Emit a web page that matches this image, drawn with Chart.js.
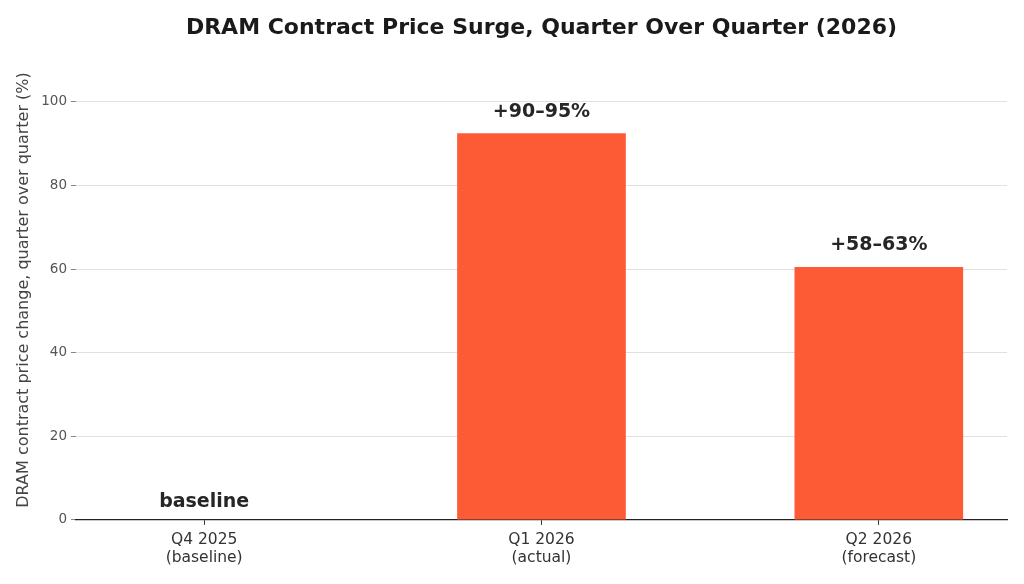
<!DOCTYPE html>
<html>
<head>
<meta charset="utf-8">
<script src="https://cdn.jsdelivr.net/npm/chart.js@4.4.1/dist/chart.umd.min.js"></script>
<style>
  html, body { margin: 0; padding: 0; background: #fff; }
  #wrap { width: 1024px; height: 584px; }
</style>
</head>
<body>
<div id="wrap"><canvas id="dramChart"></canvas></div>
<script>
// Chart data
const categories = [['Q4 2025', '(baseline)'], ['Q1 2026', '(actual)'], ['Q2 2026', '(forecast)']];
const priceChange = [0, 92.5, 60.5];
const barLabels = ['baseline', '+90–95%', '+58–63%'];
const yTicks = [0, 20, 40, 60, 80, 100];

const chartTitle = 'DRAM Contract Price Surge, Quarter Over Quarter (2026)';
const barColor = '#fd5b35';

// draws the text above each bar
const barLabelPlugin = {
    id: 'barLabels',
    afterDatasetsDraw(chart) {
        const ctx = chart.ctx;
        const meta = chart.getDatasetMeta(0);
        ctx.save();
        ctx.font = 'bold 19px "DejaVu Sans"';
        ctx.fillStyle = '#262626';
        ctx.textAlign = 'center';
        ctx.textBaseline = 'bottom';
        meta.data.forEach((bar, i) => {
            const offset = priceChange[i] > 0 ? 12 : 8;
            ctx.fillText(barLabels[i], bar.x, bar.y - offset);
        });
        ctx.restore();
    }
};

// title centred over the plot area rather than the whole canvas
const plotTitlePlugin = {
    id: 'plotTitle',
    afterDraw(chart) {
        const ctx = chart.ctx;
        const area = chart.chartArea;
        ctx.save();
        ctx.font = 'bold 22px "DejaVu Sans"';
        ctx.fillStyle = '#1a1a1a';
        ctx.textAlign = 'center';
        ctx.textBaseline = 'middle';
        ctx.fillText(chartTitle, (area.left + area.right) / 2, 28);
        ctx.restore();
    }
};

const ctx = document.getElementById('dramChart');
new Chart(ctx.getContext('2d'), {
    type: 'bar',
    data: {
        datasets: [{
            label: 'DRAM contract price change',
            data: priceChange.map((v, i) => ({ x: i, y: v })),
            backgroundColor: barColor,
            borderWidth: 0,
            categoryPercentage: 1,
            barPercentage: 0.5
        }]
    },
    options: {
        responsive: true,
        maintainAspectRatio: false,
        animation: false,
        layout: { padding: { left: 10, right: 17, top: 60, bottom: 11 } },
        plugins: {
            legend: { display: false },
            tooltip: { enabled: false },
            title: { display: false }
        },
        scales: {
            x: {
                type: 'linear',
                min: -0.38,
                max: 2.38,
                offset: false,
                afterBuildTicks: axis => { axis.ticks = categories.map((c, i) => ({ value: i })); },
                grid: { display: true, offset: false, drawOnChartArea: false, tickLength: 5, color: '#333' },
                border: { display: true, color: '#222', width: 1.3 },
                ticks: {
                    color: '#333',
                    padding: 7,
                    font: { family: '"DejaVu Sans"', size: 15.5, lineHeight: 1.1 },
                    callback: (v) => categories[v] || ''
                }
            },
            y: {
                min: 0,
                max: 110,
                afterBuildTicks: axis => { axis.ticks = yTicks.map(v => ({ value: v })); },
                grid: {
                    color: ctx => ctx.tick && ctx.tick.value === 0 ? 'rgba(0,0,0,0)' : '#e0e0e0',
                    tickColor: '#888',
                    tickLength: 5
                },
                border: { display: false },
                ticks: {
                    color: '#555',
                    padding: 4,
                    font: { family: '"DejaVu Sans"', size: 13.5 }
                },
                title: {
                    display: true,
                    text: 'DRAM contract price change, quarter over quarter (%)',
                    color: '#444',
                    font: { family: '"DejaVu Sans"', size: 16 },
                    padding: { top: 4, bottom: 4 }
                }
            }
        }
    },
    plugins: [barLabelPlugin, plotTitlePlugin]
});
</script>
</body>
</html>
